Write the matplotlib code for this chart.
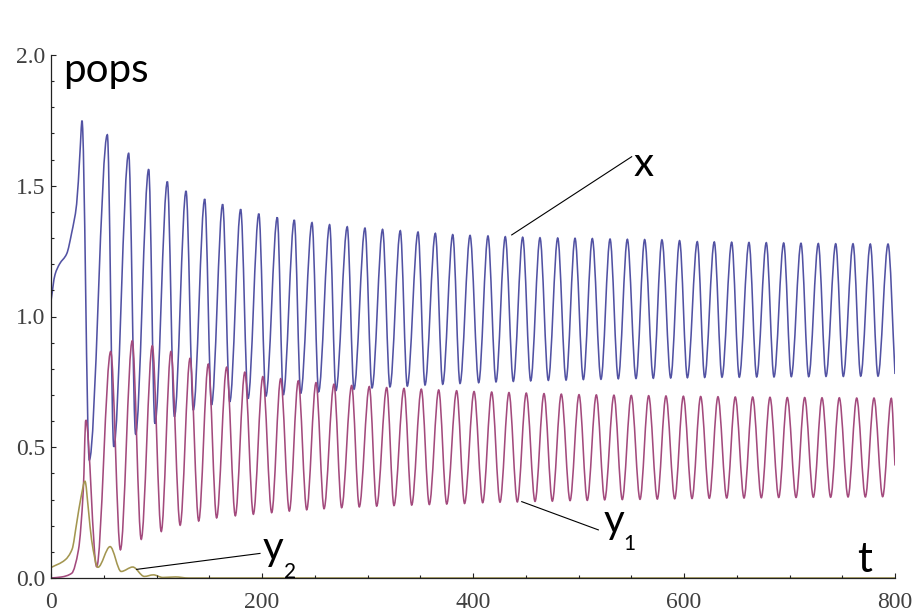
"""Predator-prey populations x, y1, y2 against t (Mathematica-style look).
Curve values are the peaks/troughs read off the original figure; the drawn
line is a smooth monotone cubic through them.
"""
import numpy as np
import matplotlib
matplotlib.use('Agg')
import matplotlib.pyplot as plt
from matplotlib.path import Path
from matplotlib.patches import PathPatch

# ── x (prey) ──
x_start_t = [0, 3.8, 8, 14.9, 19.6, 24.3, 27.5]
x_start_v = [1.06, 1.16, 1.20, 1.24, 1.32, 1.43, 1.63]
x_peak_t = [29.4, 53.4, 73.6, 92.6, 110.3, 128.0, 145.7, 162.7, 179.8, 197.0,
            214.5, 230.6, 247.4, 264.1, 280.8, 297.6, 314.3, 331.1, 347.9, 364.3, 380.8, 397.2,
            414.2, 430.6, 447.1, 463.5, 480.3, 496.7, 513.1, 529.9, 546.3, 562.7, 579.1, 595.8,
            612.6, 628.7, 645.2, 661.6, 678.0, 694.5, 710.9, 727.3, 743.8, 760.2, 776.6, 793.4]
x_peak_v = [1.749, 1.695, 1.624, 1.563, 1.516, 1.480, 1.449, 1.429, 1.410, 1.393,
            1.379, 1.369, 1.359, 1.351, 1.343, 1.338, 1.333, 1.328, 1.323, 1.318, 1.313, 1.310,
            1.308, 1.305, 1.303, 1.301, 1.300, 1.299, 1.298, 1.296, 1.295, 1.294, 1.293, 1.290,
            1.286, 1.285, 1.284, 1.283, 1.282, 1.281, 1.280, 1.279, 1.278, 1.278, 1.277, 1.277]
x_trough_t = [36.3, 59.5, 80.2, 98.5, 117.0, 134.9, 152.2, 169.5, 186.8, 203.7,
              220.2, 236.7, 253.7, 270.1, 287.2, 304.3, 321.3, 337.7, 354.5, 371.3, 387.7,
              405.4, 421.8, 438.2, 454.7, 471.4, 488.2, 504.6, 521.3, 537.7, 554.5, 570.9, 587.4,
              603.2, 619.6, 636.0, 652.4, 668.9, 685.3, 701.7, 718.2, 734.6, 751.0, 767.5, 783.9]
x_trough_v = [0.451, 0.502, 0.550, 0.590, 0.617, 0.642, 0.662, 0.674, 0.686, 0.695,
              0.700, 0.706, 0.712, 0.717, 0.722, 0.727, 0.731, 0.734, 0.738, 0.741, 0.744,
              0.747, 0.750, 0.752, 0.754, 0.756, 0.757, 0.759, 0.760, 0.762, 0.763, 0.764, 0.765,
              0.766, 0.767, 0.768, 0.768, 0.769, 0.769, 0.770, 0.770, 0.771, 0.771, 0.772, 0.772]
x_end_t, x_end_v = [800], [0.78]

# ── y1 (predator) ──
y1_start_t = [0, 10, 19.6, 26, 30.6]
y1_start_v = [0.0, 0.004, 0.018, 0.107, 0.336]
y1_peak_t = [33.0, 56.6, 77.0, 96.0, 113.7, 131.8, 149.1, 166.5, 183.7,
             200.8, 217.7, 234.4, 251.2, 268.2, 285.0, 301.7, 318.2, 334.6, 351.0, 367.5, 384.5,
             401.0, 417.7, 434.1, 450.5, 467.3, 483.7, 500.5, 516.9, 533.6, 550.0, 566.5, 582.9,
             599.4, 615.8, 632.2, 648.6, 665.1, 681.5, 697.9, 714.4, 730.8, 747.2, 763.7, 780.1, 796.5]
y1_peak_v = [0.604, 0.866, 0.907, 0.888, 0.866, 0.840, 0.818, 0.806, 0.787,
             0.770, 0.762, 0.754, 0.747, 0.741, 0.736, 0.732, 0.728, 0.725, 0.722, 0.719, 0.716,
             0.713, 0.711, 0.709, 0.707, 0.705, 0.703, 0.701, 0.700, 0.699, 0.698, 0.697, 0.696,
             0.695, 0.694, 0.693, 0.692, 0.692, 0.691, 0.690, 0.690, 0.689, 0.689, 0.688, 0.688, 0.687]
y1_trough_t = [43.3, 65.8, 85.5, 104.5, 122.4, 140.0, 157.0, 174.7, 191.8,
               209.2, 225.9, 242.4, 258.8, 275.5, 292.2, 308.7, 325.1, 341.9, 358.6, 375.1, 392.0,
               409.2, 425.6, 442.0, 458.8, 475.2, 492.0, 508.3, 524.8, 541.5, 558.3, 574.7, 591.2,
               607.6, 624.0, 640.5, 656.9, 673.3, 689.8, 706.2, 722.6, 739.0, 755.5, 771.9, 788.3]
y1_trough_v = [0.043, 0.108, 0.148, 0.178, 0.202, 0.218, 0.230, 0.238, 0.244,
               0.250, 0.256, 0.261, 0.265, 0.269, 0.272, 0.275, 0.277, 0.279, 0.281, 0.283, 0.285,
               0.288, 0.290, 0.291, 0.293, 0.294, 0.296, 0.297, 0.299, 0.300, 0.301, 0.302, 0.303,
               0.304, 0.305, 0.306, 0.306, 0.307, 0.308, 0.308, 0.309, 0.309, 0.310, 0.310, 0.311]
y1_end_t, y1_end_v = [800], [0.43]

# ── y2 (top predator, dies out) ──
y2_t = [0, 13.3, 20, 24.3, 28.5, 32.2, 35.5, 38.5, 44.5, 56, 66.5, 77.5,
        88.5, 97, 106, 118, 130, 800]
y2_v = [0.04, 0.069, 0.11, 0.209, 0.31, 0.37, 0.26, 0.145, 0.041, 0.12, 0.025, 0.042,
        0.006, 0.012, 0.002, 0.004, 0.0, 0.0]

C_X, C_Y1, C_Y2 = '#5252a3', '#a34a7d', '#a39650'


def merge(*parts):
    t = np.concatenate([np.asarray(a, float) for a, _ in parts])
    v = np.concatenate([np.asarray(b, float) for _, b in parts])
    o = np.argsort(t)
    return t[o], v[o]


def smooth_path(t, v):
    # monotone cubic (Fritsch-Carlson) through the read points, as bezier segments
    h = np.diff(t); d = np.diff(v) / h
    m = np.zeros_like(v)
    m[0], m[-1] = d[0], d[-1]
    for i in range(1, len(v) - 1):
        if d[i-1] * d[i] > 0:
            w1 = 2*h[i] + h[i-1]; w2 = h[i] + 2*h[i-1]
            m[i] = (w1 + w2) / (w1/d[i-1] + w2/d[i])
    verts = [(t[0], v[0])]; codes = [Path.MOVETO]
    for i in range(len(h)):
        verts += [(t[i] + h[i]/3, v[i] + m[i]*h[i]/3),
                  (t[i+1] - h[i]/3, v[i+1] - m[i+1]*h[i]/3),
                  (t[i+1], v[i+1])]
        codes += [Path.CURVE4] * 3
    return Path(verts, codes)


xt, xv = merge((x_start_t, x_start_v), (x_peak_t, x_peak_v),
               (x_trough_t, x_trough_v), (x_end_t, x_end_v))
y1t, y1v = merge((y1_start_t, y1_start_v), (y1_peak_t, y1_peak_v),
                 (y1_trough_t, y1_trough_v), (y1_end_t, y1_end_v))
y2t, y2v = np.asarray(y2_t, float), np.asarray(y2_v, float)

fig = plt.figure(figsize=(9.15, 6.12), dpi=100)
ax = fig.add_axes([51/915, 34/612, 844/915, 523/612])

for t, v, col in [(xt, xv, C_X), (y1t, y1v, C_Y1), (y2t, y2v, C_Y2)]:
    ax.add_patch(PathPatch(smooth_path(t, v), fill=False, ec=col, lw=1.15))

ax.set_xlim(0, 800); ax.set_ylim(0, 2.0)
for s in ('top', 'right'):
    ax.spines[s].set_visible(False)
for s in ('left', 'bottom'):
    ax.spines[s].set_color('#222222'); ax.spines[s].set_linewidth(0.9)
ax.set_xticks(np.arange(0, 801, 200)); ax.set_xticks(np.arange(0, 801, 50), minor=True)
ax.set_yticks(np.arange(0, 2.01, 0.5)); ax.set_yticks(np.arange(0, 2.01, 0.1), minor=True)
ax.set_yticklabels([f'{y:.1f}' for y in np.arange(0, 2.01, 0.5)])
ax.tick_params(which='both', direction='in', color='#222222', width=0.8,
               labelsize=17, labelcolor='#404040')
ax.tick_params(which='major', length=3.8)
ax.tick_params(which='minor', length=2.2)
ax.tick_params(axis='x', pad=10)
ax.tick_params(axis='y', pad=4)
for lab in ax.get_xticklabels() + ax.get_yticklabels():
    lab.set_family('Liberation Serif')

# ── labels and callouts ──
lab_kw = dict(family='Lato', color='black', va='baseline', ha='left')
ax.text(11.4, 1.897, 'pops', fontsize=29, **lab_kw)
ax.text(764, 0.023, 't', fontsize=30, **lab_kw)
ax.plot([436.7, 550.4], [1.312, 1.611], color='black', lw=0.8)
ax.text(552, 1.537, 'x', fontsize=29, **lab_kw)
ax.plot([446.2, 518.8], [0.292, 0.184], color='black', lw=0.8)
ax.text(523.5, 0.172, 'y', fontsize=29, **lab_kw)
ax.text(542, 0.107, '1', fontsize=15, **lab_kw)
ax.plot([81.2, 198.1], [0.033, 0.094], color='black', lw=0.8)
ax.text(201, 0.069, 'y', fontsize=29, **lab_kw)
ax.text(221, 0.0, '2', fontsize=15, **lab_kw)

fig.savefig('out.png', dpi=100)
print('saved out.png')
